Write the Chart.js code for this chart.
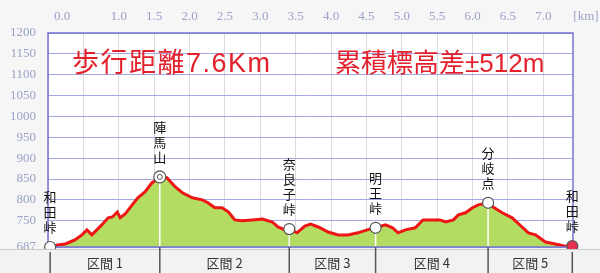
<!DOCTYPE html>
<html>
<head>
<meta charset="utf-8">
<script src="https://cdn.jsdelivr.net/npm/chart.js@4"></script>
<style>
  html, body { margin: 0; padding: 0; background: #f6f6f6; }
  #wrap { width: 600px; height: 273px; }
</style>
</head>
<body>
<div id="wrap"><canvas id="profile-chart" width="600" height="273"></canvas></div>
<script>
// profile: distance (km) and elevation (m)
const distKm = [0.03, 0.14, 0.24, 0.31, 0.38, 0.48, 0.55, 0.62, 0.69, 0.76, 0.85, 0.91, 0.98, 1.02, 1.09,
  1.19, 1.27, 1.37, 1.47, 1.54, 1.58, 1.68, 1.80, 1.90, 2.04, 2.18, 2.26, 2.36, 2.46, 2.55, 2.64,
  2.74, 2.89, 3.03, 3.17, 3.25, 3.35, 3.41, 3.52, 3.63, 3.71, 3.82, 3.96, 4.10, 4.24, 4.38, 4.51,
  4.63, 4.77, 4.87, 4.95, 5.05, 5.19, 5.30, 5.54, 5.62, 5.73, 5.80, 5.90, 6.00, 6.08, 6.22, 6.29,
  6.42, 6.56, 6.70, 6.79, 6.89, 7.03, 7.17, 7.31, 7.41];
const elevM = [687, 692, 694, 699, 704, 716, 728, 716, 728, 740, 757, 759, 771, 757, 766,
  788, 805, 819, 841, 848, 855, 853, 831, 817, 805, 800, 793, 781, 781, 771, 752,
  750, 752, 754, 747, 735, 728, 730, 721, 737, 742, 735, 723, 716, 716, 721, 728,
  733, 740, 733, 721, 728, 733, 752, 752, 747, 752, 764, 769, 781, 788, 793, 783,
  769, 757, 735, 721, 716, 699, 694, 689, 689];

// named points along the route
const pointNames = ['和田峠', '陣馬山', '奈良子峠', '明王峠', '分岐点', '和田峠'];
const pointKm = [0.03, 1.58, 3.41, 4.63, 6.22, 7.41];
const pointElev = [687, 855, 730, 733, 793, 689];

const sectionLabels = ['区間 1', '区間 2', '区間 3', '区間 4', '区間 5'];
const xTickValues = [0, 0.5, 1, 1.5, 2, 2.5, 3, 3.5, 4, 4.5, 5, 5.5, 6, 6.5, 7];
const yTickValues = [687, 750, 800, 850, 900, 950, 1000, 1050, 1100, 1150, 1200];

const titleLeft = '歩行距離7.6Km';
const titleRight = '累積標高差±512m';

const tickColor = '#9aa3c8';
const tickFont = { family: '"Liberation Serif", serif', size: 13 };

// background, border, section band, labels
const decorPlugin = {
  id: 'decor',
  beforeDraw(chart) {
    const { ctx, chartArea: a } = chart;
    ctx.save();
    ctx.fillStyle = '#f6f6f6';
    ctx.fillRect(0, 0, chart.width, chart.height);
    ctx.fillStyle = '#ffffff';
    ctx.fillRect(a.left, a.top, a.right - a.left, a.bottom - a.top);
    ctx.restore();
  },
  afterDatasetDraw(chart, args) {
    if (args.index !== 0) return;
    const { ctx, chartArea: a, scales } = chart;
    ctx.save();
    // white drop lines from the named points
    ctx.strokeStyle = '#ffffff';
    ctx.lineWidth = 1.5;
    pointKm.forEach((km, i) => {
      const x = scales.x.getPixelForValue(km);
      ctx.beginPath();
      ctx.moveTo(x, scales.y.getPixelForValue(pointElev[i]));
      ctx.lineTo(x, a.bottom);
      ctx.stroke();
    });
    // plot border under the markers
    ctx.strokeStyle = '#7474d4';
    ctx.lineWidth = 1.5;
    ctx.strokeRect(a.left, a.top, a.right - a.left, a.bottom - a.top);
    ctx.restore();
  },
  afterDraw(chart) {
    const { ctx, chartArea: a, scales } = chart;
    ctx.save();
    // section band under the plot
    const bandTop = a.bottom + 2;
    ctx.fillStyle = '#f2f2f2';
    ctx.fillRect(0, bandTop, chart.width, chart.height - bandTop);
    ctx.strokeStyle = '#c8c8c8';
    ctx.lineWidth = 1;
    ctx.beginPath();
    ctx.moveTo(0, bandTop + 0.5);
    ctx.lineTo(chart.width, bandTop + 0.5);
    ctx.stroke();

    const xs = pointKm.map(km => scales.x.getPixelForValue(km));
    ctx.strokeStyle = '#555555';
    ctx.lineWidth = 1.5;
    xs.forEach((x, i) => {
      const r = i === 0 || i === xs.length - 1 ? 5 : 0;
      ctx.beginPath();
      ctx.moveTo(x, a.bottom + r);
      ctx.lineTo(x, chart.height);
      ctx.stroke();
    });

    ctx.fillStyle = '#333333';
    ctx.font = '13px "Noto Sans CJK JP", sans-serif';
    ctx.textAlign = 'center';
    ctx.textBaseline = 'middle';
    sectionLabels.forEach((label, i) => {
      ctx.fillText(label, (xs[i] + xs[i + 1]) / 2, 263);
    });

    // vertical point names
    ctx.fillStyle = '#111111';
    ctx.font = '13px "Noto Sans CJK JP", sans-serif';
    pointNames.forEach((name, i) => {
      const x = xs[i];
      const y = scales.y.getPixelForValue(pointElev[i]);
      const chars = name.split('');
      const n = chars.length;
      chars.forEach((ch, k) => {
        ctx.fillText(ch, x, y - 20 - (n - 1 - k) * 15);
      });
    });

    // first km label sits a little right of the axis, plus the unit
    ctx.fillStyle = tickColor;
    ctx.font = '13px "Liberation Serif", serif';
    ctx.fillText('0.0', 62, 17);
    ctx.fillText('[km]', 586, 17);

    // titles
    ctx.fillStyle = '#e3202c';
    ctx.textAlign = 'left';
    ctx.font = '27px "Liberation Sans", "Noto Sans CJK JP", sans-serif';
    ctx.letterSpacing = '1.5px';
    ctx.fillText(titleLeft, 72, 65);
    ctx.letterSpacing = '0px';
    ctx.font = '26px "Liberation Sans", "Noto Sans CJK JP", sans-serif';
    ctx.fillText(titleRight, 335, 65);
    ctx.restore();
  }
};

const ctx = document.getElementById('profile-chart').getContext('2d');
new Chart(ctx, {
  type: 'scatter',
  data: {
    datasets: [{
      data: distKm.map((d, i) => ({ x: d, y: elevM[i] })),
      showLine: true,
      borderColor: '#ee1515',
      borderWidth: 3,
      backgroundColor: '#b2dc62',
      fill: 'start',
      pointRadius: 0,
      tension: 0,
      order: 1
    }, {
      data: pointKm.map((d, i) => ({ x: d, y: pointElev[i] })),
      showLine: false,
      clip: false,
      pointRadius: [5.5, 6, 5.5, 5.5, 5.5, 5.5],
      pointBackgroundColor: ['#ffffff', '#ffffff', '#ffffff', '#ffffff', '#ffffff', '#e83050'],
      pointBorderColor: '#555555',
      pointBorderWidth: 1.2,
      order: 0
    }, {
      // inner ring of the summit mark
      data: [{ x: pointKm[1], y: pointElev[1] }],
      showLine: false,
      clip: false,
      pointRadius: 2.5,
      pointBackgroundColor: '#ffffff',
      pointBorderColor: '#555555',
      pointBorderWidth: 1,
      order: -1
    }]
  },
  plugins: [decorPlugin],
  options: {
    responsive: false,
    animation: false,
    layout: { padding: { left: 0, right: 27, top: 0, bottom: 26 } },
    plugins: { legend: { display: false }, tooltip: { enabled: false } },
    scales: {
      x: {
        type: 'linear',
        position: 'top',
        min: 0,
        max: 7.42,
        afterFit(axis) { axis.height = 33; },
        afterBuildTicks(axis) { axis.ticks = xTickValues.map(v => ({ value: v })); },
        border: { display: false },
        grid: { color: '#dadada', lineWidth: 1, drawTicks: false },
        ticks: {
          padding: 9,
          color: tickColor,
          font: tickFont,
          maxRotation: 0,
          autoSkip: false,
          callback: v => (v <= 0.5 ? '' : v.toFixed(1))
        }
      },
      y: {
        min: 687,
        max: 1200,
        afterFit(axis) { axis.width = 48; },
        afterBuildTicks(axis) { axis.ticks = yTickValues.map(v => ({ value: v })); },
        border: { display: false },
        grid: { color: '#a4a8e2', lineWidth: 1, drawTicks: false },
        ticks: {
          padding: 12,
          color: tickColor,
          font: tickFont,
          autoSkip: false,
          callback: v => String(v)
        }
      }
    }
  }
});
</script>
</body>
</html>
